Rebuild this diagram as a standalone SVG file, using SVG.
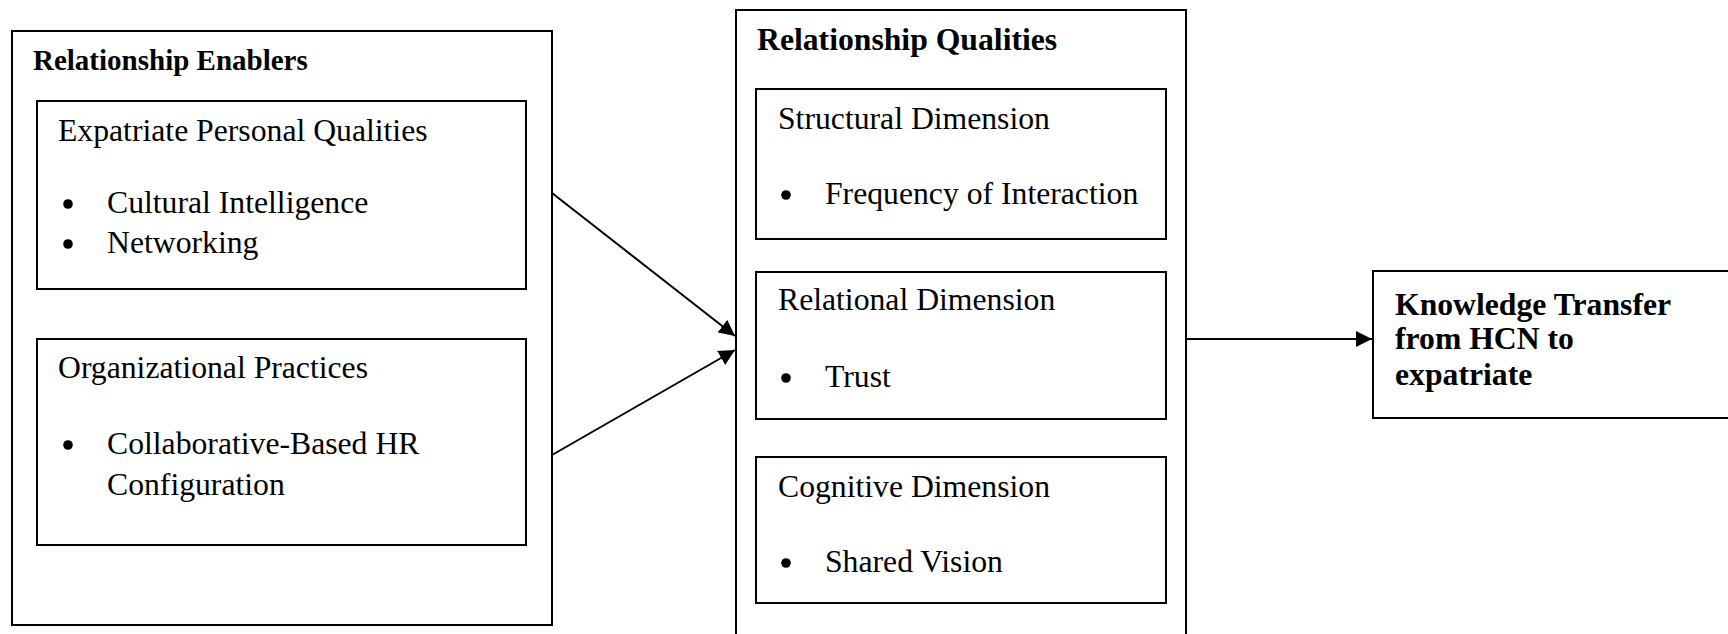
<svg xmlns="http://www.w3.org/2000/svg" width="1728" height="634" viewBox="0 0 1728 634">
  <style>
    .box { fill: #ffffff; stroke: #000000; stroke-width: 2; }
    .t { font-family: "Liberation Serif", "Times New Roman", serif; font-size: 31.7px; fill: #000000; }
    .b { font-family: "Liberation Serif", "Times New Roman", serif; font-size: 31.7px; font-weight: bold; fill: #000000; }
    .bs { font-size: 29px; }
    .dot { fill: #000000; }
    .conn { fill: none; stroke: #000000; stroke-width: 2; }
  </style>
  <defs>
    <marker id="arrow" viewBox="0 0 16 16" refX="16" refY="8" markerWidth="16" markerHeight="16" markerUnits="userSpaceOnUse" orient="auto">
      <path d="M0,0 L16,8 L0,16 Z" fill="#000000"/>
    </marker>
  </defs>
  <rect width="1728" height="634" fill="#ffffff"/>

  <g id="relationship-enablers">
    <rect class="box" x="12" y="31" width="540" height="594"/>
    <text class="b bs" x="33" y="70">Relationship Enablers</text>
  </g>
  <g id="expatriate-personal-qualities">
    <rect class="box" x="37" y="101" width="489" height="188"/>
    <text class="t" x="58" y="141">Expatriate Personal Qualities</text>
    <circle class="dot" cx="68" cy="204" r="4.8"/>
    <text class="t" x="107" y="213">Cultural Intelligence</text>
    <circle class="dot" cx="68" cy="244" r="4.8"/>
    <text class="t" x="107" y="253">Networking</text>
  </g>
  <g id="organizational-practices">
    <rect class="box" x="37" y="339" width="489" height="206"/>
    <text class="t" x="58" y="378">Organizational Practices</text>
    <circle class="dot" cx="68" cy="445" r="4.8"/>
    <text class="t" x="107" y="454">Collaborative-Based HR</text>
    <text class="t" x="107" y="495">Configuration</text>
  </g>

  <g id="relationship-qualities">
    <rect class="box" x="736" y="10" width="450" height="640"/>
    <text class="b" x="757" y="50">Relationship Qualities</text>
  </g>
  <g id="structural-dimension">
    <rect class="box" x="756" y="89" width="410" height="150"/>
    <text class="t" x="778" y="129">Structural Dimension</text>
    <circle class="dot" cx="786" cy="195" r="4.8"/>
    <text class="t" x="825" y="204">Frequency of Interaction</text>
  </g>
  <g id="relational-dimension">
    <rect class="box" x="756" y="272" width="410" height="147"/>
    <text class="t" x="778" y="310">Relational Dimension</text>
    <circle class="dot" cx="786" cy="378" r="4.8"/>
    <text class="t" x="825" y="387">Trust</text>
  </g>
  <g id="cognitive-dimension">
    <rect class="box" x="756" y="457" width="410" height="146"/>
    <text class="t" x="778" y="497">Cognitive Dimension</text>
    <circle class="dot" cx="786" cy="563" r="4.8"/>
    <text class="t" x="825" y="572">Shared Vision</text>
  </g>

  <g id="knowledge-transfer">
    <rect class="box" x="1373" y="271" width="370" height="147"/>
    <text class="b" x="1395" y="315">Knowledge Transfer</text>
    <text class="b" x="1395" y="349">from HCN to</text>
    <text class="b" x="1395" y="385">expatriate</text>
  </g>

  <g id="connectors">
    <line class="conn" x1="552" y1="193" x2="735" y2="336" marker-end="url(#arrow)"/>
    <line class="conn" x1="552" y1="455" x2="735" y2="350" marker-end="url(#arrow)"/>
    <line class="conn" x1="1186" y1="339" x2="1372" y2="339" marker-end="url(#arrow)"/>
  </g>
</svg>
